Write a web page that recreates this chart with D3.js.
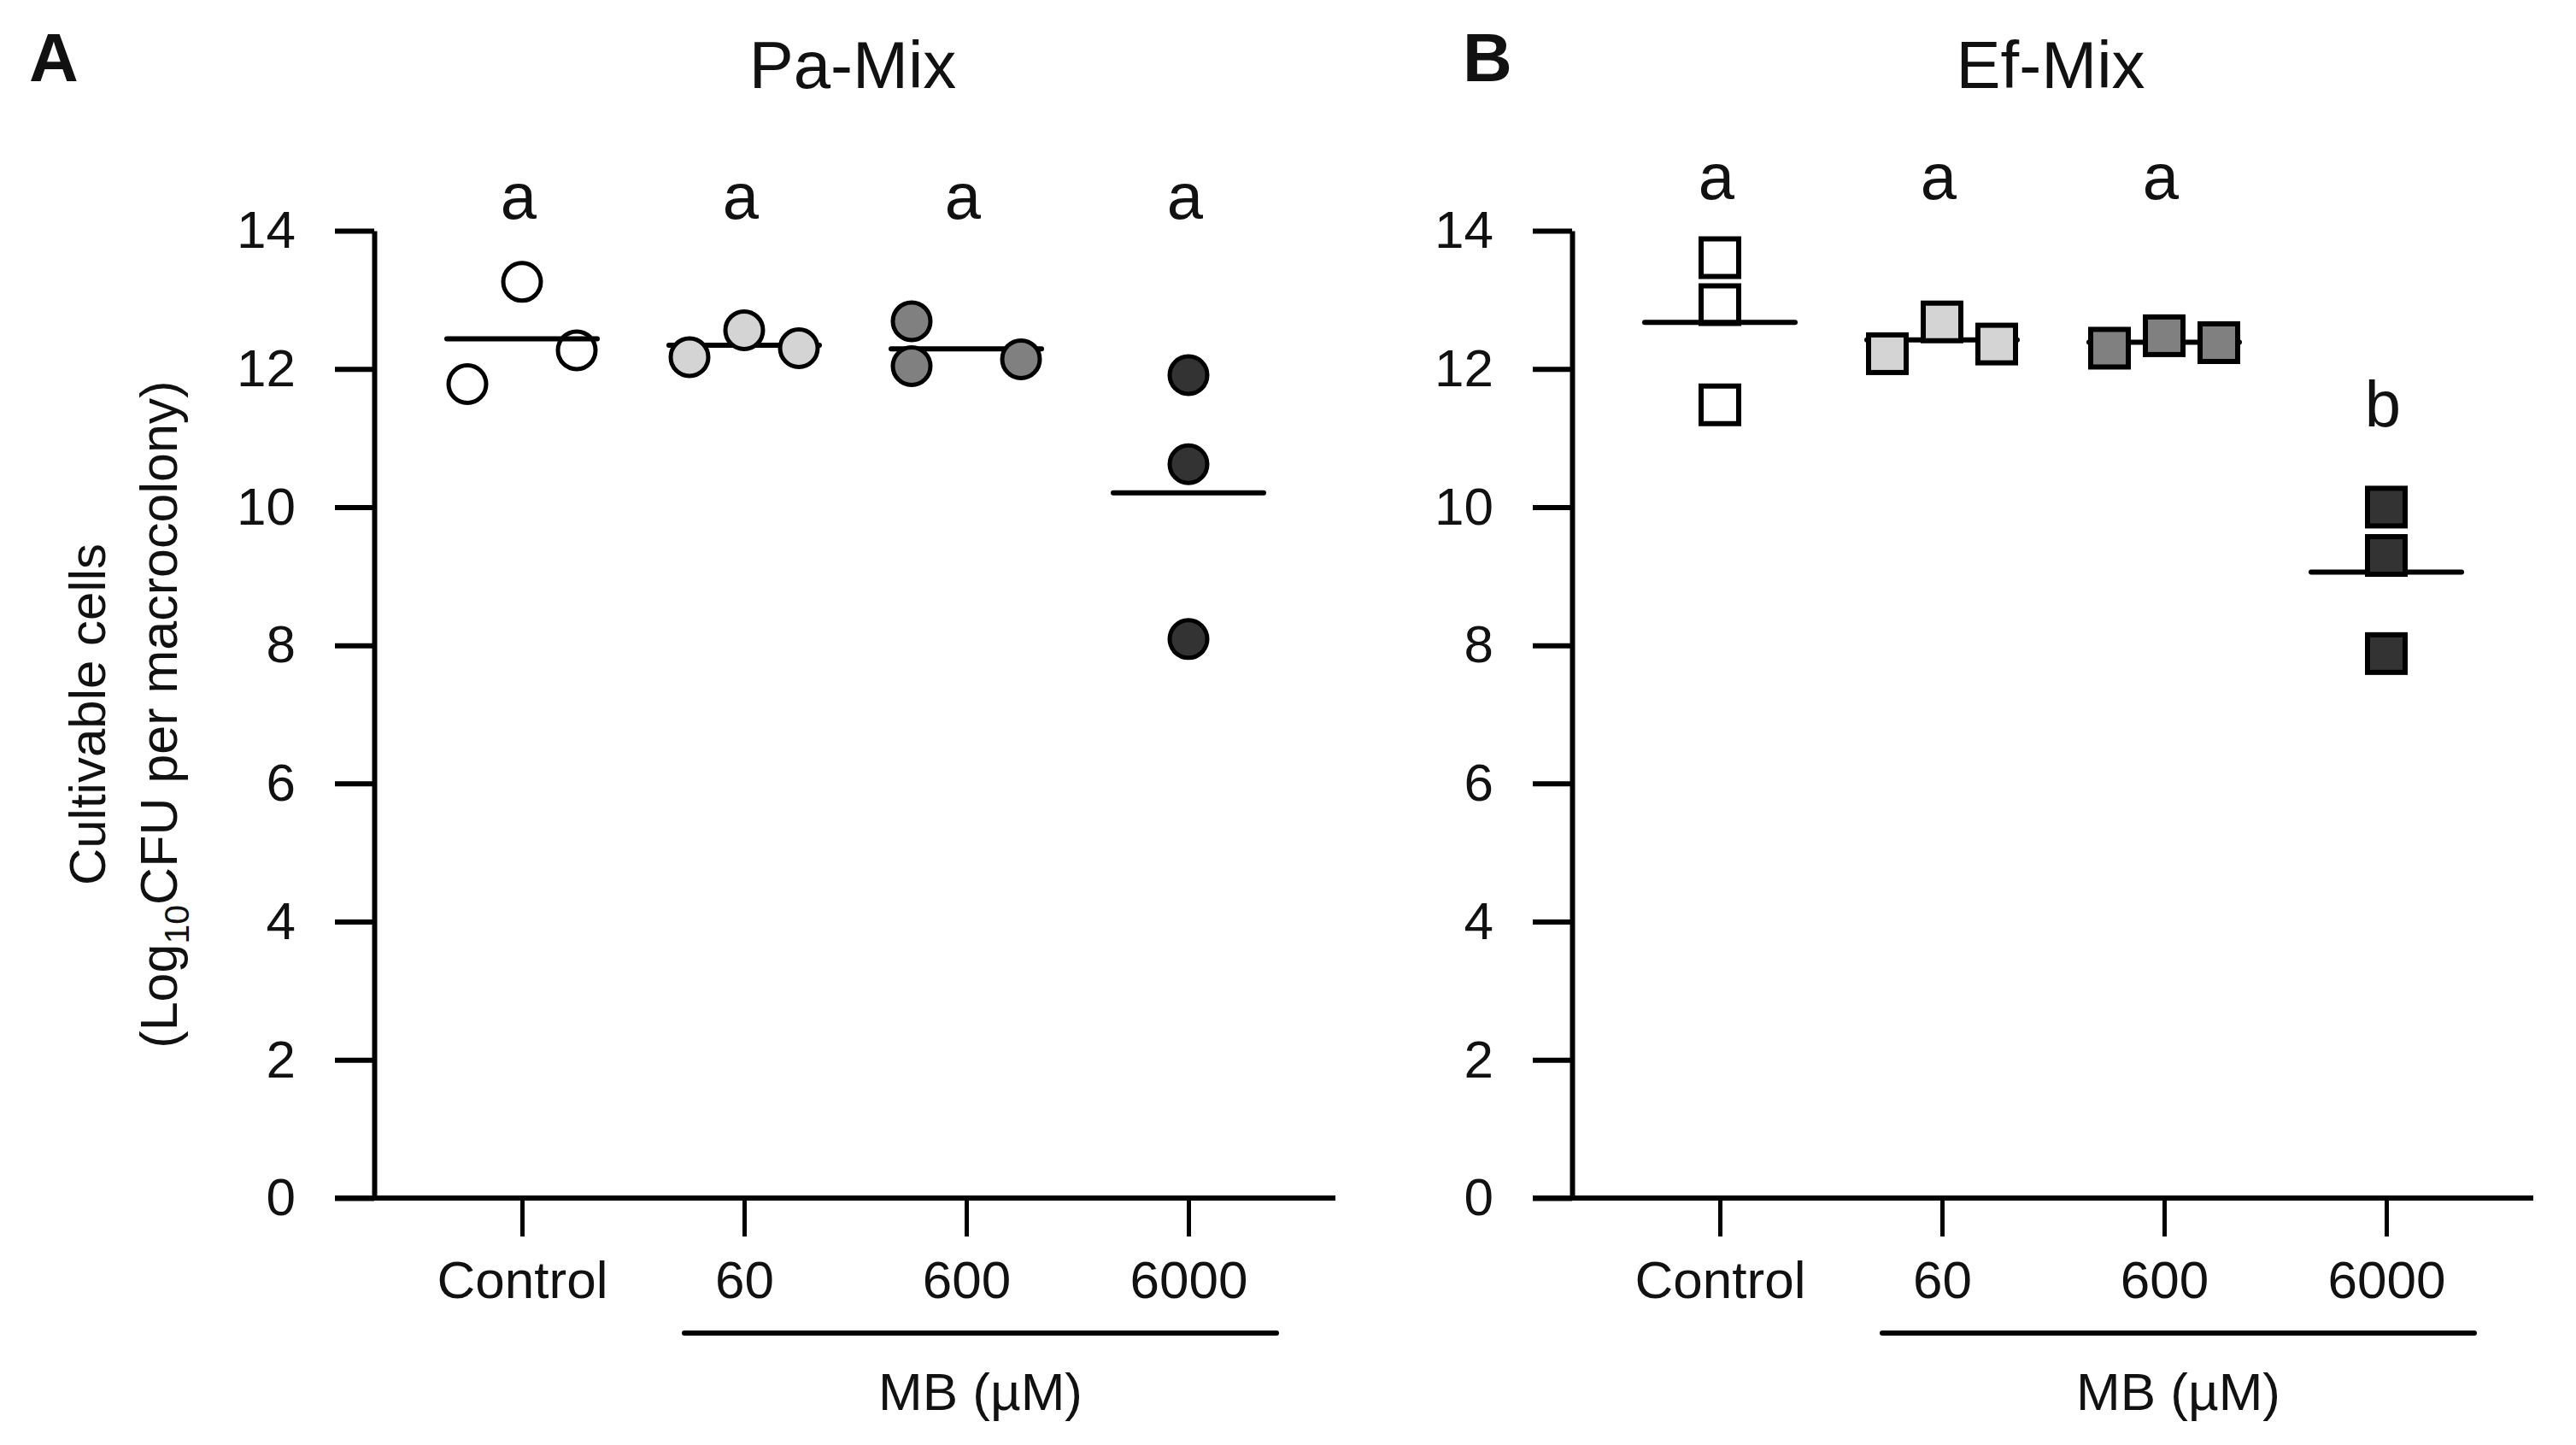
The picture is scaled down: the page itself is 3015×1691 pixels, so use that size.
<!DOCTYPE html>
<html>
<head>
<meta charset="utf-8">
<script src="https://cdn.jsdelivr.net/npm/d3@7"></script>
<style>
  body { margin: 0; background: #fff; }
  text { font-family: "Liberation Sans", Arial, sans-serif; fill: #111; }
</style>
</head>
<body>
<div id="chart"></div>
<script>
// categories and tick labels
var categories = ["Control", "60", "600", "6000"];
var yTicks = [0, 2, 4, 6, 8, 10, 12, 14];

// Pa-Mix values (log10 CFU), three replicates per group
var paValues = [[11.78, 13.26, 12.27], [12.17, 12.56, 12.30], [12.69, 12.04, 12.14], [11.91, 10.62, 8.09]];
var paJitter = [[-1, 0, 1], [-1, 0, 1], [-1, -1, 1], [0, 0, 0]];
var paLetters = ["a", "a", "a", "a"];
var paLetterY = [14.17, 14.17, 14.17, 14.17];

// Ef-Mix values
var efValues = [[13.61, 12.93, 11.48], [12.22, 12.68, 12.36], [12.30, 12.48, 12.38], [10.00, 9.30, 7.88]];
var efJitter = [[0, 0, 0], [-1, 0, 1], [-1, 0, 1], [0, 0, 0]];
var efLetters = ["a", "a", "a", "b"];
var efLetterY = [14.46, 14.46, 14.46, 11.17];

var groupFills = ["none", "#d4d4d4", "#808080", "#333333"];

var width = 3015, height = 1691;
var yTop = 270, yBot = 1402;

var svg = d3.select("#chart")
  .append("svg")
  .attr("width", width)
  .attr("height", height);

svg.append("rect").attr("width", width).attr("height", height).attr("fill", "#fff");

var y = d3.scaleLinear().domain([0, 14]).range([yBot, yTop]);

function drawPanel(p) {
  var g = svg.append("g");
  var x = d3.scalePoint()
    .domain(categories)
    .range([p.ax + 173, p.ax + 953]);
  var jitterStep = 64;

  // panel letter + title
  g.append("text")
    .attr("x", p.letterX).attr("y", 95)
    .style("font-size", "80px").style("font-weight", "bold")
    .text(p.id);
  g.append("text")
    .attr("x", p.ax + 560).attr("y", 103)
    .attr("text-anchor", "middle")
    .style("font-size", "78px")
    .text(p.title);

  // y axis
  var yAxis = g.append("g")
    .attr("transform", "translate(" + p.ax + ",0)")
    .call(d3.axisLeft(y).tickValues(yTicks).tickSize(46).tickPadding(46).tickSizeOuter(0));
  yAxis.attr("font-size", null).attr("font-family", null);
  yAxis.selectAll("text").style("font-size", "62px");
  yAxis.selectAll("line, path").attr("stroke", "#000").attr("stroke-width", 6);

  // x axis
  var xAxis = g.append("g")
    .attr("transform", "translate(0," + yBot + ")")
    .call(d3.axisBottom(x).tickSize(45).tickPadding(28));
  xAxis.attr("font-size", null).attr("font-family", null);
  xAxis.select(".domain").remove();
  xAxis.selectAll("text").style("font-size", "62px");
  xAxis.selectAll("line").attr("stroke", "#000").attr("stroke-width", 5);
  g.append("line")
    .attr("x1", p.ax - 46).attr("x2", p.ax + 1125)
    .attr("y1", yBot).attr("y2", yBot)
    .attr("stroke", "#000").attr("stroke-width", 6);

  // MB bracket
  var bx1 = x("60") - 70, bx2 = x("6000") + 103;
  g.append("line")
    .attr("x1", bx1).attr("x2", bx2)
    .attr("y1", 1560).attr("y2", 1560)
    .attr("stroke", "#000").attr("stroke-width", 6).attr("stroke-linecap", "round");
  g.append("text")
    .attr("x", (bx1 + bx2) / 2).attr("y", 1650)
    .attr("text-anchor", "middle")
    .style("font-size", "62px")
    .text("MB (µM)");

  // mean lines
  g.selectAll(".mean")
    .data(p.values)
    .enter()
    .append("line")
    .attr("class", "mean")
    .attr("x1", function(d, i) { return x(categories[i]) - 88; })
    .attr("x2", function(d, i) { return x(categories[i]) + 88; })
    .attr("y1", function(d) { return y(d3.mean(d)); })
    .attr("y2", function(d) { return y(d3.mean(d)); })
    .attr("stroke", "#000").attr("stroke-width", 6).attr("stroke-linecap", "round");

  // points
  var pts = [];
  p.values.forEach(function(vals, i) {
    vals.forEach(function(v, j) {
      pts.push({cat: categories[i], group: i, v: v, off: p.jitter[i][j]});
    });
  });
  if (p.shape == "circle") {
    g.selectAll(".pt")
      .data(pts)
      .enter()
      .append("circle")
      .attr("class", "pt")
      .attr("cx", function(d) { return x(d.cat) + d.off * jitterStep; })
      .attr("cy", function(d) { return y(d.v); })
      .attr("r", 22)
      .attr("fill", function(d) { return groupFills[d.group]; })
      .attr("stroke", "#000").attr("stroke-width", 5);
  } else {
    g.selectAll(".pt")
      .data(pts)
      .enter()
      .append("rect")
      .attr("class", "pt")
      .attr("x", function(d) { return x(d.cat) + d.off * jitterStep - 22; })
      .attr("y", function(d) { return y(d.v) - 22; })
      .attr("width", 44).attr("height", 44)
      .attr("fill", function(d) { return groupFills[d.group]; })
      .attr("stroke", "#000").attr("stroke-width", 6);
  }

  // significance letters
  g.selectAll(".sig")
    .data(p.letters)
    .enter()
    .append("text")
    .attr("class", "sig")
    .attr("x", function(d, i) { return x(categories[i]) - 4; })
    .attr("y", function(d, i) { return y(p.letterY[i]); })
    .attr("text-anchor", "middle")
    .style("font-size", "76px")
    .text(function(d) { return d; });
}

drawPanel({id: "A", title: "Pa-Mix", ax: 438, letterX: 34, values: paValues, jitter: paJitter,
  letters: paLetters, letterY: paLetterY, shape: "circle"});
drawPanel({id: "B", title: "Ef-Mix", ax: 1840, letterX: 1712, values: efValues, jitter: efJitter,
  letters: efLetters, letterY: efLetterY, shape: "square"});

// y axis title (panel A only)
var yl = svg.append("g")
  .attr("transform", "translate(0," + ((yTop + yBot) / 2) + ") rotate(-90)")
  .attr("text-anchor", "middle");
yl.append("text")
  .attr("x", 0).attr("y", 123)
  .style("font-size", "60px")
  .text("Cultivable cells");
var l2 = yl.append("text")
  .attr("x", 0).attr("y", 207)
  .style("font-size", "61px");
l2.append("tspan").text("(Log");
l2.append("tspan").attr("dy", 14).style("font-size", "41px").text("10");
l2.append("tspan").attr("dy", -14).text("CFU per macrocolony)");
</script>
</body>
</html>
